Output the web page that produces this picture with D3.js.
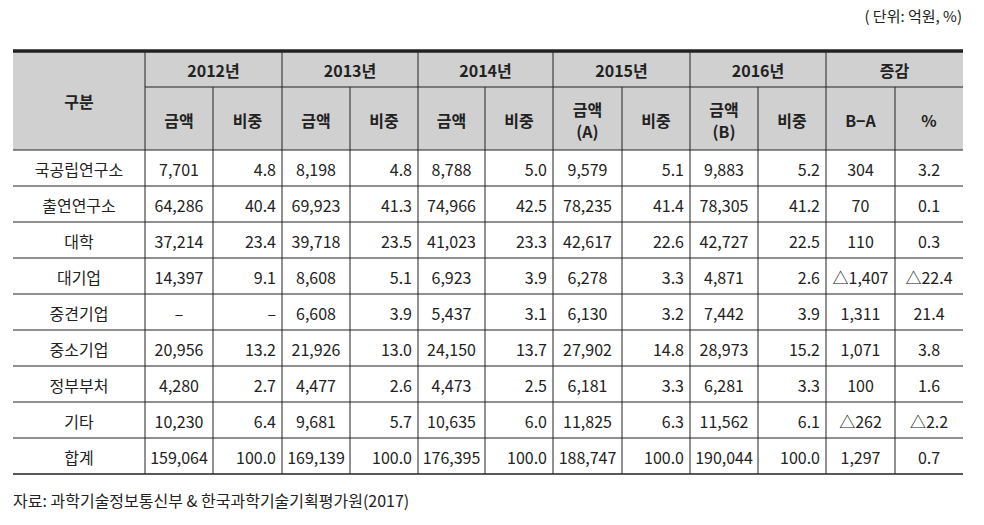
<!DOCTYPE html>
<html><head><meta charset="utf-8">
<script src="https://cdn.jsdelivr.net/npm/d3@7"></script>
<style>body{margin:0;background:#fff}</style>
</head><body><svg id="c" width="984" height="525"></svg>
<script>
var years = ["2012년", "2013년", "2014년", "2015년", "2016년", "증감"];
var subHeads = [["금액","비중"],["금액","비중"],["금액","비중"],["금액\n(A)","비중"],["금액\n(B)","비중"],["B−A","%"]];
var categories = ["국공립연구소","출연연구소","대학","대기업","중견기업","중소기업","정부부처","기타","합계"];
var rows = [
  ["7,701","4.8","8,198","4.8","8,788","5.0","9,579","5.1","9,883","5.2","304","3.2"],
  ["64,286","40.4","69,923","41.3","74,966","42.5","78,235","41.4","78,305","41.2","70","0.1"],
  ["37,214","23.4","39,718","23.5","41,023","23.3","42,617","22.6","42,727","22.5","110","0.3"],
  ["14,397","9.1","8,608","5.1","6,923","3.9","6,278","3.3","4,871","2.6","△1,407","△22.4"],
  ["–","–","6,608","3.9","5,437","3.1","6,130","3.2","7,442","3.9","1,311","21.4"],
  ["20,956","13.2","21,926","13.0","24,150","13.7","27,902","14.8","28,973","15.2","1,071","3.8"],
  ["4,280","2.7","4,477","2.6","4,473","2.5","6,181","3.3","6,281","3.3","100","1.6"],
  ["10,230","6.4","9,681","5.7","10,635","6.0","11,825","6.3","11,562","6.1","△262","△2.2"],
  ["159,064","100.0","169,139","100.0","176,395","100.0","188,747","100.0","190,044","100.0","1,297","0.7"]
];

var svg = d3.select("#c");
var font = "'Noto Sans CJK KR', sans-serif";
var xs = [13,145,213,282,350,418,485,553,622,690,758,826,895,963];
var yTop = 51, yH1 = 87, yH2 = 150;
var y = d3.scaleBand().domain(d3.range(categories.length)).range([yH2, 474]);

svg.append("text").attr("x", 962).attr("y", 22).attr("text-anchor","end")
  .attr("font-family", font).attr("font-size", 15).attr("fill","#222").text("( 단위: 억원, %)");

svg.append("rect").attr("x", 13).attr("y", yTop).attr("width", 950).attr("height", yH2 - yTop).attr("fill", "#d0d0d0");

function line(x1,y1,x2,y2,w,c){
  svg.append("line").attr("x1",x1).attr("y1",y1).attr("x2",x2).attr("y2",y2)
    .attr("stroke",c||"#222").attr("stroke-width",w||1);
}
function txt(x,yy,s,anchor,weight){
  var lines = s.split("\n");
  var t = svg.append("text").attr("x",x).attr("y",yy - (lines.length-1)*11)
    .attr("text-anchor",anchor||"middle").attr("dominant-baseline","central")
    .attr("font-family",font).attr("font-size",16).attr("font-weight",weight||"normal").attr("fill","#222");
  lines.forEach(function(l,i){ t.append("tspan").attr("x",x).attr("dy", i?22:0).text(l); });
}

// header
txt((xs[0]+xs[1])/2, 101, "구분", "middle", "bold");
years.forEach(function(yr,i){
  var a = xs[1+2*i], b = xs[3+2*i];
  txt((a+b)/2, (yTop+yH1)/2+1, yr, "middle", "bold");
  subHeads[i].forEach(function(s,j){
    txt((xs[1+2*i+j]+xs[2+2*i+j])/2, (yH1+yH2)/2+1, s, "middle", "bold");
  });
  if (i>0) line(a, yTop, a, 474, 1);
});
line(xs[1], yTop, xs[1], 474, 1);
for (var k = 2; k < xs.length-1; k += 2) line(xs[k], yH1, xs[k], 474, 1);
line(xs[1], yH1, xs[13], yH1, 1);

// body
categories.forEach(function(c,r){
  var cy = y(r) + y.bandwidth()/2 + 1;
  txt((xs[0]+xs[1])/2, cy, c);
  rows[r].forEach(function(v,j){
    if (j % 2 === 0 || j >= 10) txt((xs[1+j]+xs[2+j])/2, cy, v);
    else txt(xs[2+j]-6, cy, v, "end");
  });
  line(13, y(r), 963, y(r), 1);
});
line(13, 474, 963, 474, 1.5);
line(13, yTop, 963, yTop, 3.5);

svg.append("text").attr("x", 13).attr("y", 500).attr("dominant-baseline","central")
  .attr("font-family", font).attr("font-size", 16).attr("fill","#222")
  .text("자료:  과학기술정보통신부  &  한국과학기술기획평가원(2017)");
</script></body></html>
